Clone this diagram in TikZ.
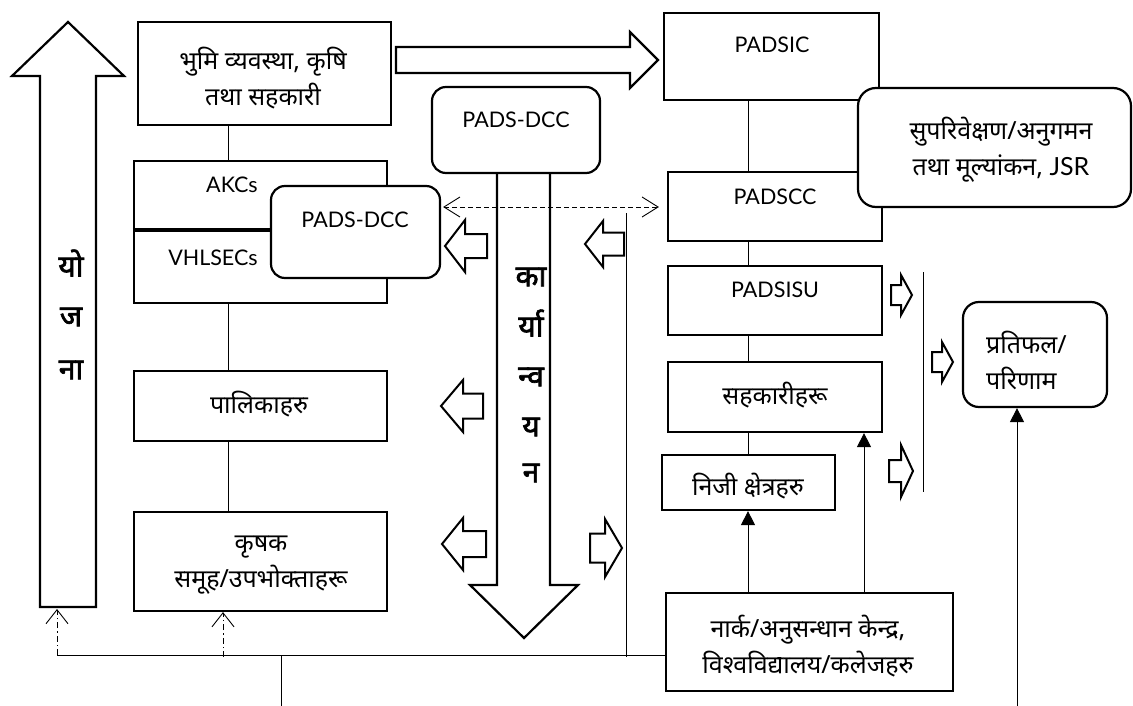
\documentclass[tikz,border=0pt]{standalone}
\usepackage{fontspec}
\setmainfont{Lato}
\newfontfamily\dev[Script=Devanagari]{Noto Sans}
\newfontfamily\devb[Script=Devanagari, FakeBold=2.2]{Noto Sans}
\usetikzlibrary{arrows.meta}
\tikzset{
  box/.style={draw, line width=2.2pt, fill=white, inner sep=0pt},
  rbox/.style={box, rounded corners=14pt},
  conn/.style={line width=0.9pt},
  blk/.style={draw, line width=2pt, fill=white, line join=miter},
  big/.style={draw, line width=2.2pt, fill=white, line join=miter},
  dtxt/.style={font=\dev\fontsize{25}{30}\selectfont, align=center, inner sep=0pt},
  ltxt/.style={font=\fontsize{21.5}{26}\selectfont, inner sep=0pt},
  btxt/.style={font=\devb\fontsize{30}{34}\selectfont, inner sep=0pt},
  ddot/.style={line width=0.8pt, dash pattern=on 6pt off 3pt on 1.5pt off 3pt},
  barb/.style={-{Straight Barb[length=14pt,width=22pt,line width=0.9pt]}},
  tri/.style={-{Triangle[length=14pt,width=14pt]}},
}
% left block arrow: tip x, cy, head-base x, right end x, head half-height, shaft half-height
\newcommand\blkL[6]{\draw[blk] (#1,#2) -- (#3,#2-#5) -- (#3,#2-#6) -- (#4,#2-#6) -- (#4,#2+#6) -- (#3,#2+#6) -- (#3,#2+#5) -- cycle;}
% right block arrow: left end x, cy, head-base x, tip x, head half-height, shaft half-height
\newcommand\blkR[6]{\draw[blk] (#4,#2) -- (#3,#2-#5) -- (#3,#2-#6) -- (#1,#2-#6) -- (#1,#2+#6) -- (#3,#2+#6) -- (#3,#2+#5) -- cycle;}
\begin{document}
\begin{tikzpicture}[x=1pt,y=-1pt]
\useasboundingbox (0,0) rectangle (1133,706);
\fill[white] (0,0) rectangle (1133,706);

% ---- big up arrow (yojana)
\draw[big] (68,22) -- (124,76) -- (96,76) -- (96,607) -- (40,607) -- (40,76) -- (12,76) -- cycle;
\node[btxt] (y1) at (71,263) {यो};
\node[btxt] (y2) at (71,317) {ज};
\node[btxt] (y3) at (71,370) {ना};

% ---- big right arrow
\draw[big] (396,47) -- (630,47) -- (630,32) -- (658,60) -- (630,88) -- (630,73) -- (396,73) -- cycle;

% ---- left column
\node[box, minimum width=253pt, minimum height=103pt] (b1) at (264.5,73.5) {};
\node[dtxt] (b1t) at (263,78) {भुमि व्यवस्था, कृषि\\[6pt]तथा सहकारी};

\node[box, minimum width=253pt, minimum height=142pt] (akc) at (260.5,232) {};
\coordinate (dv) at (271,230);
\draw[line width=3.5pt] (akc.west |- dv) -- (dv);
\node[ltxt] (akct) at (232,185) {AKCs};
\node[ltxt] (vht) at (213,258) {VHLSECs};
\node[rbox, minimum width=169pt, minimum height=92pt] (dccL) at (355.5,232) {};
\node[ltxt] (dccLt) at (355,220) {PADS-DCC};

\node[box, minimum width=253pt, minimum height=70pt] (pal) at (260.5,406) {};
\node[dtxt] (palt) at (259,404) {पालिकाहरु};

\node[box, minimum width=253pt, minimum height=99pt] (kri) at (260.5,561.5) {};
\node[dtxt] (krit) at (261,565) {कृषक\\[6pt]समूह/उपभोक्ताहरू};

\coordinate (lx) at (228,0);
\draw[conn] (b1.south -| lx) -- (akc.north -| lx);
\draw[conn] (akc.south -| lx) -- (pal.north -| lx);
\draw[conn] (pal.south -| lx) -- (kri.north -| lx);

% ---- PADS-DCC top and big down arrow
\draw[big] (497,173) -- (497,585) -- (470,585) -- (524,638) -- (578,585) -- (550,585) -- (550,173);
\node[rbox, minimum width=168pt, minimum height=86pt] (dccT) at (516,130) {};
\node[ltxt] (dccTt) at (516,120) {PADS-DCC};
\node[btxt] (k1) at (531,277) {का};
\node[btxt] (k2) at (531,323) {र्या};
\node[btxt] (k3) at (531,377) {न्व};
\node[btxt] (k4) at (531,427) {य};
\node[btxt] (k5) at (531,473) {न};

% ---- right column
\node[box, minimum width=215pt, minimum height=87pt] (padsic) at (771.5,56.5) {};
\node[ltxt] (padsict) at (772,45) {PADSIC};
\node[box, minimum width=214pt, minimum height=69pt] (padscc) at (775,206.5) {};
\node[ltxt] (padscct) at (775,197) {PADSCC};
\node[rbox, rounded corners=18pt, minimum width=273pt, minimum height=119pt] (sup) at (994.5,147.5) {};
\node[dtxt] (supt) at (1001,150) {सुपरिवेक्षण/अनुगमन\\[6pt]तथा मूल्यांकन, {\rmfamily JSR}};
\node[box, minimum width=214pt, minimum height=69pt] (padsisu) at (775,300.5) {};
\node[ltxt] (padsisut) at (775,290) {PADSISU};
\node[box, minimum width=214pt, minimum height=70pt] (sah) at (775,397) {};
\node[dtxt] (saht) at (775,395) {सहकारीहरू};
\node[box, minimum width=173pt, minimum height=55pt] (nij) at (748.5,482.5) {};
\node[dtxt] (nijt) at (748,486) {निजी क्षेत्रहरु};
\node[box, minimum width=287pt, minimum height=98pt] (narc) at (809.5,642) {};
\node[dtxt] (narct) at (808,646) {नार्क/अनुसन्धान केन्द्र,\\[6pt]विश्वविद्यालय/कलेजहरु};
\node[rbox, rounded corners=16pt, minimum width=144pt, minimum height=105pt] (prat) at (1035,354.5) {};
\node[dtxt, align=left, anchor=west] (pratt) at (986,360) {प्रतिफल/\\[6pt]परिणाम};

\coordinate (rx) at (748,0);
\draw[conn] (padsic.south -| rx) -- (padscc.north -| rx);
\draw[conn] (padscc.south -| rx) -- (padsisu.north -| rx);
\draw[conn] (padsisu.south -| rx) -- (sah.north -| rx);
\draw[conn] (sah.south -| rx) -- (nij.north -| rx);
\draw[conn, tri] (narc.north -| rx) -- (nij.south -| rx);
\coordinate (rx2) at (864,0);
\draw[conn, tri] (narc.north -| rx2) -- (sah.south -| rx2);
\coordinate (pb) at (1017,706);
\draw[conn, tri] (pb) -- (prat.south -| pb);

% ---- dashed double arrow
\coordinate (da) at (0,207);
\draw[line width=0.9pt, dashed, dash pattern=on 5pt off 3pt,
  {Straight Barb[length=16pt,width=20pt]}-{Straight Barb[length=16pt,width=20pt]}, shorten >=8pt, shorten <=2pt]
  (dccL.east |- da) -- (padscc.west |- da);

% ---- thin lines
\coordinate (v1t) at (626,213);
\coordinate (v1b) at (626,657);
\draw[conn] (v1t) -- (v1b);
\coordinate (v2t) at (923,272);
\coordinate (v2b) at (923,492);
\draw[conn] (v2t) -- (v2b);
\coordinate (hl) at (57,655);
\draw[conn] (hl) -- (narc.west |- hl);
\coordinate (v3t) at (281,656);
\coordinate (v3b) at (281,706);
\draw[conn] (v3t) -- (v3b);

% ---- dash-dot arrows
\coordinate (dd1) at (57,609);
\draw[ddot, barb] (hl) -- (dd1);
\coordinate (dd2) at (223,657);
\draw[ddot, barb] (dd2) -- (kri.south -| dd2);

% ---- block arrows
\blkL{445}{246}{465}{487}{26}{12}
\blkL{585}{244}{603}{624}{23}{11.5}
\blkL{441}{406}{463}{483}{26}{12.5}
\blkL{442}{544}{463}{486}{26}{13}
\blkR{590}{548}{605}{622}{29}{14.5}
\blkR{891}{295}{901}{912}{20}{10}
\blkR{932}{362}{942}{953}{20}{10}
\blkR{889}{471}{901}{913}{26}{11}
\end{tikzpicture}
\end{document}
